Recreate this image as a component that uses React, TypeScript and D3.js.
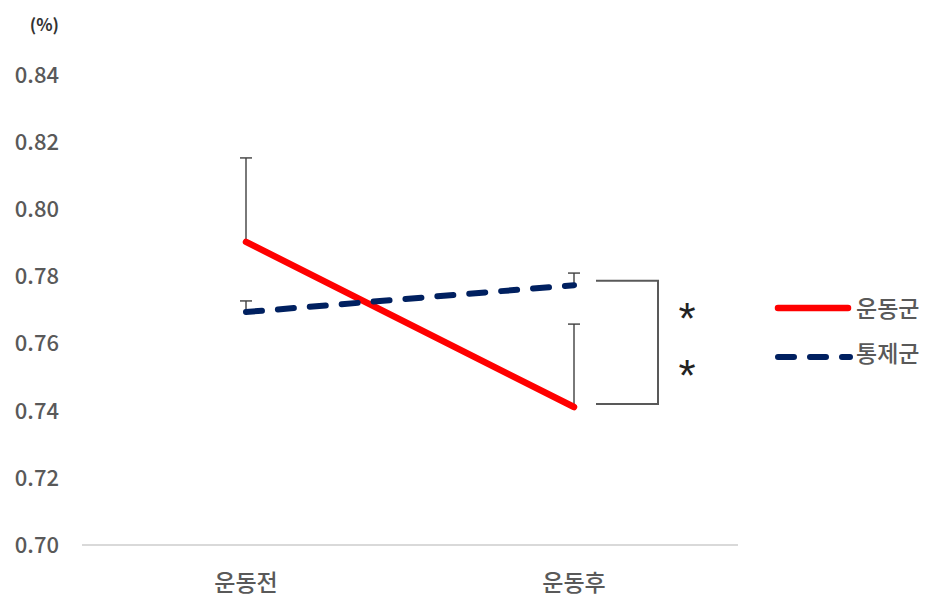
import React from "react";
import * as d3 from "d3";

const categories = ["운동전", "운동후"];
const exerciseValues = [0.7903, 0.7411];
const exerciseErrors = [0.025, 0.0247];
const controlValues = [0.7694, 0.7774];
const controlErrors = [0.0033, 0.0036];
const yTicks = [0.7, 0.72, 0.74, 0.76, 0.78, 0.8, 0.82, 0.84];
const seriesNames = ["운동군", "통제군"];
const bracketRange = [0.7787, 0.742];
const starLevels = [0.7704, 0.7532];
const unitLabel = "(%)";

const W = 930;
const H = 602;
const FONT = "'Noto Sans CJK KR', 'Noto Sans', sans-serif";
const TEXT = "#595959";
const RED = "#ff0000";
const NAVY = "#002060";

export default function App() {
  const x = d3.scalePoint<string>().domain(categories).range([82, 738]).padding(0.5);
  const y = d3.scaleLinear().domain([0.7, 0.84]).range([545, 75]);
  const line = d3
    .line<number>()
    .x((_, i) => x(categories[i]) as number)
    .y((d) => y(d));

  const errorBar = (cx: number, v: number, e: number, key: string) => (
    <g key={key} stroke="#404040" strokeWidth={1.4}>
      <line x1={cx} x2={cx} y1={y(v)} y2={y(v + e)} />
      <line x1={cx - 6} x2={cx + 6} y1={y(v + e)} y2={y(v + e)} />
    </g>
  );

  const bx0 = (x(categories[1]) as number) + 22;
  const bx1 = bx0 + 62;
  const starSize = 44;

  return (
    <svg
      width={W}
      height={H}
      style={{ position: "absolute", left: 0, top: 0, background: "#fff" }}
      fontFamily={FONT}
    >
      <text x={59} y={31} textAnchor="end" fontSize={17} fill="#333" fontWeight={700}>
        {unitLabel}
      </text>
      {yTicks.map((t) => (
        <text
          key={t}
          x={59}
          y={y(t)}
          dy="0.36em"
          textAnchor="end"
          fontSize={22}
          fontWeight={500}
          fill={TEXT}
        >
          {t.toFixed(2)}
        </text>
      ))}
      <line x1={82} x2={738} y1={y(0.7)} y2={y(0.7)} stroke="#d9d9d9" strokeWidth={2} />
      {categories.map((c) => (
        <text
          key={c}
          x={x(c) as number}
          y={583}
          dy="0.36em"
          textAnchor="middle"
          fontSize={23}
          fontWeight={500}
          fill={TEXT}
        >
          {c}
        </text>
      ))}

      {categories.map((c, i) => errorBar(x(c) as number, exerciseValues[i], exerciseErrors[i], "e" + i))}
      {categories.map((c, i) => errorBar(x(c) as number, controlValues[i], controlErrors[i], "c" + i))}

      <path d={line(exerciseValues) || ""} fill="none" stroke={RED} strokeWidth={6.5} strokeLinecap="round" />
      <path
        d={line(controlValues) || ""}
        fill="none"
        stroke={NAVY}
        strokeWidth={6}
        strokeLinecap="round"
        strokeDasharray="16 16"
      />

      <path
        d={`M${bx0},${y(bracketRange[0])}H${bx1}V${y(bracketRange[1])}H${bx0}`}
        fill="none"
        stroke={TEXT}
        strokeWidth={2}
      />
      {starLevels.map((v, i) => (
        <text
          key={i}
          x={687}
          y={y(v) + starSize * 0.57}
          textAnchor="middle"
          fontSize={starSize}
          fontFamily="'Liberation Sans', Arial, sans-serif"
          fill="#222"
        >
          *
        </text>
      ))}

      <line x1={778} x2={848} y1={308} y2={308} stroke={RED} strokeWidth={6.5} strokeLinecap="round" />
      <line
        x1={778}
        x2={850}
        y1={357}
        y2={357}
        stroke={NAVY}
        strokeWidth={6}
        strokeLinecap="round"
        strokeDasharray="16 16"
      />
      {seriesNames.map((n, i) => (
        <text key={n} x={856} y={[309, 354][i]} dy="0.36em" fontSize={23} fontWeight={500} fill={TEXT}>
          {n}
        </text>
      ))}
    </svg>
  );
}
